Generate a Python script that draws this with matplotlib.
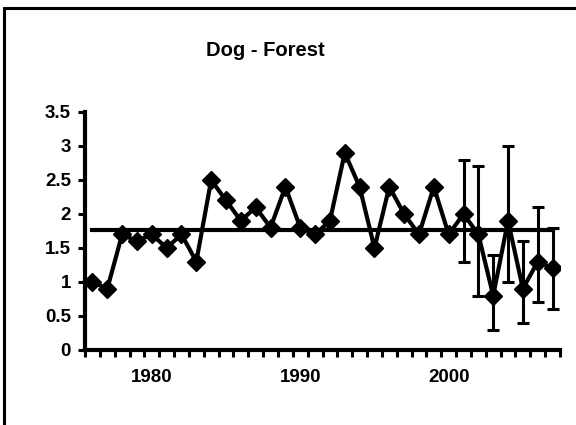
import matplotlib
matplotlib.use("Agg")
import matplotlib.pyplot as plt
from matplotlib.patches import Rectangle
import numpy as np

plt.rcParams['font.family'] = ['Liberation Sans', 'DejaVu Sans']
plt.rcParams['font.weight'] = 'bold'

# Yearly index values
years = list(range(1976, 2008))
values = [1.0, 0.9, 1.7, 1.6, 1.7, 1.5, 1.7, 1.3, 2.5, 2.2,
          1.9, 2.1, 1.8, 2.4, 1.8, 1.7, 1.9, 2.9, 2.4, 1.5,
          2.4, 2.0, 1.7, 2.4, 1.7, 2.0, 1.7, 0.8, 1.9, 0.9,
          1.3, 1.2]

# Confidence limits for the recent years
err_years = [2001, 2002, 2003, 2004, 2005, 2006, 2007]
err_upper = [2.8, 2.7, 1.4, 3.0, 1.6, 2.1, 1.8]
err_lower = [1.3, 0.8, 0.3, 1.0, 0.4, 0.7, 0.6]

mean_value = 1.77
label_years = [1980, 1990, 2000]

fig = plt.figure(figsize=(5.76, 4.25), dpi=100)
ax = fig.add_axes([85 / 576, 1 - 350 / 425, (560 - 85) / 576, (350 - 112) / 425])

# outer chart frame
fig.patches.append(Rectangle((4 / 576, -0.2), 1.5, 1.2 - 8 / 425, fill=False,
                             lw=2.2, edgecolor='black', transform=fig.transFigure))

# error bars
err_vals = [values[years.index(y)] for y in err_years]
yerr = [np.array(err_vals) - np.array(err_lower), np.array(err_upper) - np.array(err_vals)]
ax.errorbar(err_years, err_vals, yerr=yerr, fmt='none', ecolor='black',
            elinewidth=2.2, capsize=4.5, capthick=2.2, zorder=2)

# mean line
ax.plot([years[0], years[-1]], [mean_value, mean_value], color='black', lw=3, zorder=2)

# series
ax.plot(years, values, color='black', lw=3, marker='D', markersize=9.5, zorder=3)

ax.set_xlim(1975.5, 2007.5)
ax.set_ylim(0, 3.5)

ax.set_yticks(np.arange(0, 3.51, 0.5))
ax.set_yticklabels(['0', '0.5', '1', '1.5', '2', '2.5', '3', '3.5'])
ax.set_xticks(np.arange(1975.5, 2008, 1.0))
ax.set_xticklabels([])
ax.set_xticks(label_years, minor=True)
ax.set_xticklabels([str(y) for y in label_years], minor=True)

ax.tick_params(axis='y', direction='out', length=5, width=2.2, labelsize=13.5, pad=5)
ax.tick_params(axis='x', which='major', direction='out', length=5, width=2.2)
ax.tick_params(axis='x', which='minor', length=0, labelsize=13.5, pad=14)

for side in ['top', 'right']:
    ax.spines[side].set_visible(False)
for side in ['left', 'bottom']:
    ax.spines[side].set_linewidth(3)

fig.text(265 / 576, 1 - 50 / 425, 'Dog - Forest', ha='center', va='center',
         fontsize=14.5, fontweight='bold')

fig.savefig('out.png', dpi=100)
